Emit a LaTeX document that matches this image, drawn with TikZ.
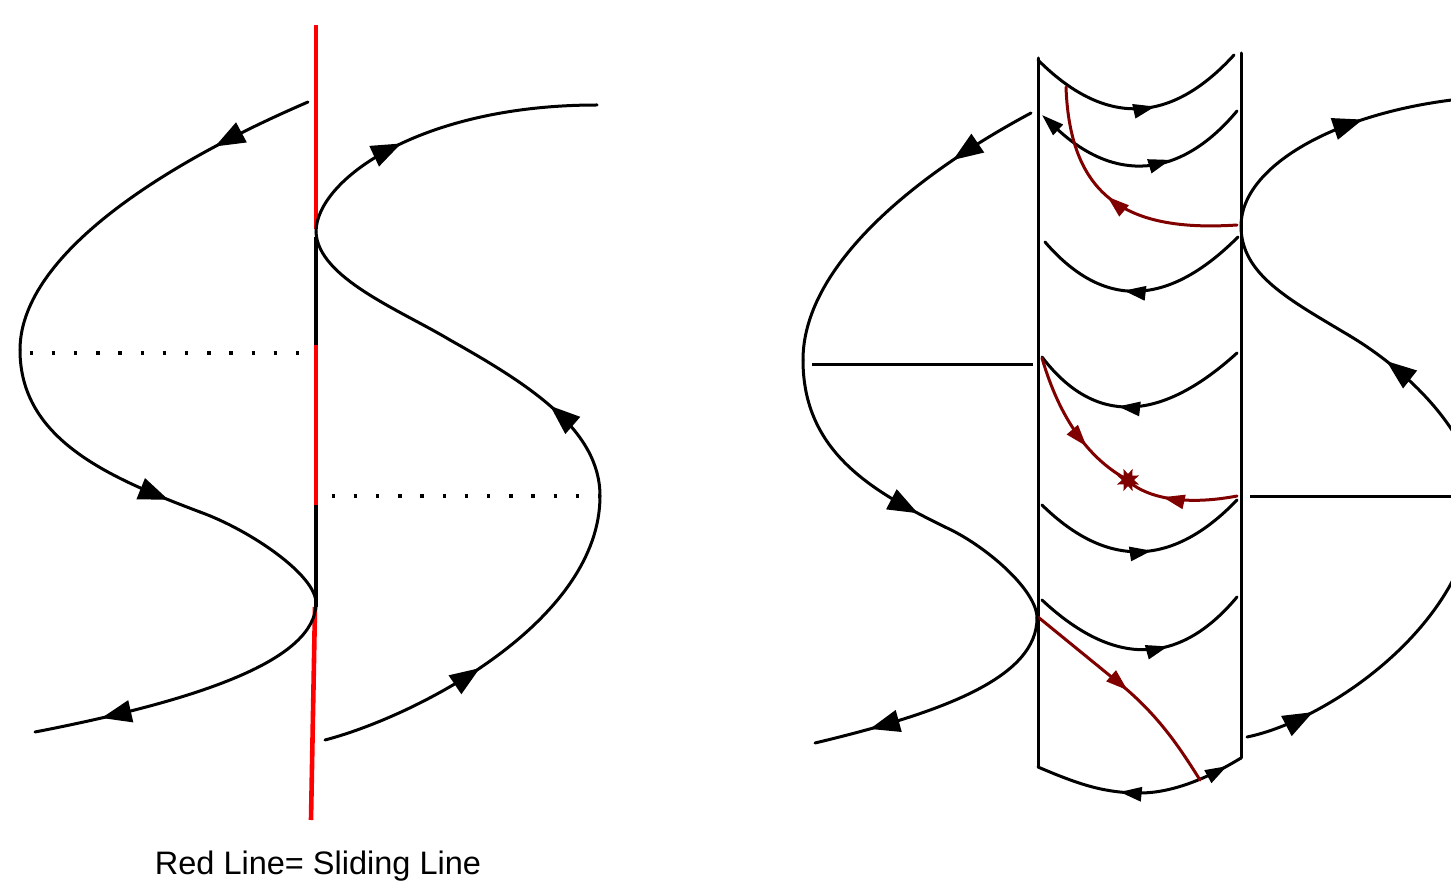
\documentclass[tikz,border=0pt]{standalone}
\usepackage{fontspec}
\setmainfont{Liberation Sans}
\usetikzlibrary{arrows.meta,decorations.markings,shapes.geometric}
\definecolor{darkred}{RGB}{128,0,0}
\tikzset{
  curve/.style={line width=3pt, line cap=round},
  redc/.style={line width=3pt, line cap=round, draw=darkred, color=darkred},
  slider/.style={line width=4.6pt},
  dotline/.style={line width=3.4pt, dash pattern=on 3.4pt off 18.8pt},
  hline/.style={line width=3pt},
  bigarr/.style={postaction={decorate},decoration={markings,mark=at position #1 with {\arrow{Triangle[length=30pt,width=22pt]}}}},
  smallarr/.style={postaction={decorate},decoration={markings,mark=at position #1 with {\arrow{Triangle[length=22pt,width=14pt]}}}},
  smallrev/.style={postaction={decorate},decoration={markings,mark=at position #1 with {\arrowreversed{Triangle[length=22pt,width=14pt]}}}},
}
\begin{document}
\begin{tikzpicture}[x=1pt,y=-1pt]
\useasboundingbox (0,0) rectangle (1451,882);
\clip (0,0) rectangle (1451,882);

% ---------- left figure: sliding line ----------
\draw[slider, red]   (316,25)  -- (316,229);
\draw[slider, black] (316,237) -- (316,345);
\draw[slider, red]   (316,345) -- (316,505);
\draw[slider, black] (316,505) -- (316,607);
\draw[slider, red]   (315,607) -- (311,820);

% left trajectory
\draw[curve, bigarr=0.26] (308,102) .. controls (150,170) and (20,260) .. (20,350);
\draw[curve, bigarr=0.87] (20,350) .. controls (20,440) and (110,478) .. (200,512);
\draw[curve] (200,512) .. controls (250,530) and (316,575) .. (316,603);
\draw[curve, bigarr=0.79] (316,603) .. controls (316,660) and (200,700) .. (35,732);

% right trajectory
\draw[curve, bigarr=0.44] (325,740) .. controls (420,715) and (600,620) .. (600,496);
\draw[curve, bigarr=0.47] (600,496) .. controls (600,430) and (530,385) .. (450,340);
\draw[curve] (450,340) .. controls (400,310) and (318,278) .. (316,232);
\draw[curve, bigarr=0.39] (316,232) .. controls (316,180) and (420,105) .. (597,105);

% dotted lines
\draw[dotline] (29.5,353) -- (301,353);
\draw[dotline] (331.5,496) -- (600,496);

\node[anchor=base, font=\fontsize{32.5}{40}\selectfont, inner sep=0pt] (caption) at (318,874) {Red Line= Sliding Line};

% ---------- right figure: cylinder ----------
\draw[curve] (1038,58) -- (1038,767);
\draw[curve] (1241,53) -- (1241,758);
\draw[curve, postaction={decorate}, decoration={markings,
    mark=at position 0.40 with {\arrowreversed{Triangle[length=22pt,width=14pt]}},
    mark=at position 0.925 with {\arrow{Triangle[length=22pt,width=14pt]}}}]
  (1038,767) .. controls (1080,785) and (1105,793) .. (1140,793)
             .. controls (1170,793) and (1205,780) .. (1241,758);

% inner arcs
\draw[curve, smallarr=0.58] (1038,60) .. controls (1104.7,126.7) and (1170,125) .. (1234,55);
\draw[curve, {Triangle[length=22pt,width=14pt]}-, smallarr=0.63] (1042,115) .. controls (1114,181.7) and (1179,180.3) .. (1237,111);
\draw[curve, smallrev=0.42] (1045,242) .. controls (1103,309.3) and (1167.3,307.7) .. (1238,237);
\draw[curve, smallrev=0.41] (1042,357) .. controls (1094,425) and (1159,423.7) .. (1237,353);
\draw[curve, smallarr=0.55] (1042,505) .. controls (1107.3,569) and (1172.3,567.3) .. (1237,500);
\draw[curve, smallarr=0.62] (1042,600) .. controls (1114,667.3) and (1179,666.3) .. (1237,597);

% red (sliding) trajectories
\draw[redc, smallarr=0.53] (1237,225) .. controls (1130,232) and (1070,200) .. (1066,87);
\draw[redc, smallarr=0.65] (1042,358) .. controls (1060,420) and (1090,460) .. (1128,480);
\draw[redc, smallarr=0.66] (1237,496) .. controls (1190,505) and (1150,500) .. (1128,481);
\draw[redc, smallarr=0.5] (1038,617) -- (1125,688) .. controls (1160,718) and (1180,748) .. (1200,780);
\node[star, star points=8, star point ratio=0.5, fill=darkred, inner sep=0pt, minimum size=12pt] (eq) at (1128,480) {};

% outer left trajectory
\draw[curve, bigarr=0.26] (1031,113) .. controls (906,180) and (803,270) .. (803,360);
\draw[curve, bigarr=0.87] (803,360) .. controls (803,453) and (874,492) .. (945,527);
\draw[curve] (945,527) .. controls (985,545) and (1037,590) .. (1037,618);
\draw[curve, bigarr=0.79] (1037,618) .. controls (1037,677) and (945,712) .. (815,743);

% outer right trajectory
\draw[curve, bigarr=0.61] (1241,226) .. controls (1241,165) and (1340,110) .. (1470,98);
\draw[curve] (1241,226) .. controls (1241,275) and (1290,300) .. (1350,336);
\draw[curve, bigarr=0.79] (1475,496) .. controls (1475,440) and (1415,375) .. (1350,336);
\draw[curve, bigarr=0.2] (1247,737) .. controls (1330,720) and (1475,620) .. (1475,496);

% horizontal lines
\draw[hline] (812,365) -- (1033,365);
\draw[hline] (1250,496) -- (1451,496);
\end{tikzpicture}
\end{document}
